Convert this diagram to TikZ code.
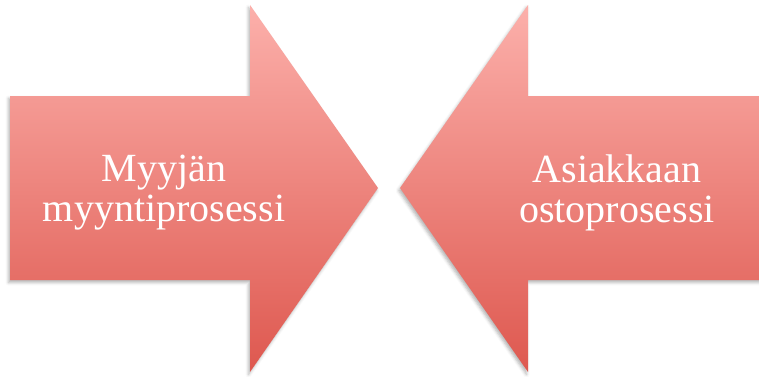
\documentclass[tikz,border=0pt]{standalone}
\usepackage{fontspec}
\setmainfont{Liberation Serif}
\usetikzlibrary{shadows.blur}

\definecolor{arrowtop}{RGB}{252,176,171}
\definecolor{arrowbottom}{RGB}{222,88,79}

\begin{document}
\begin{tikzpicture}[x=1pt,y=1pt,
    arrow body/.style={top color=arrowtop,bottom color=arrowbottom,draw=none,
      blur shadow={shadow xshift=-1.5pt,shadow yshift=-2.5pt,shadow blur radius=3pt,shadow opacity=30}},
    arrow text/.style={text=white,align=center,font=\fontsize{40}{40}\selectfont}]

  \useasboundingbox (0,0) rectangle (759,376);
  \clip (0,0) rectangle (759,376);

  % seller, pointing right
  \path[arrow body] (10,96) -- (10,280) -- (250,280) -- (250,371) -- (378,188)
        -- (250,4) -- (250,96) -- cycle;
  % customer, pointing left
  \path[arrow body] (775,96) -- (775,280) -- (528,280) -- (528,371) -- (400,188)
        -- (528,4) -- (528,96) -- cycle;

  \node[arrow text] (seller) at (164,183.3) {Myyjän\\myyntiprosessi};
  \node[arrow text] (buyer) at (617,183.3) {Asiakkaan\\ostoprosessi};

\end{tikzpicture}
\end{document}
